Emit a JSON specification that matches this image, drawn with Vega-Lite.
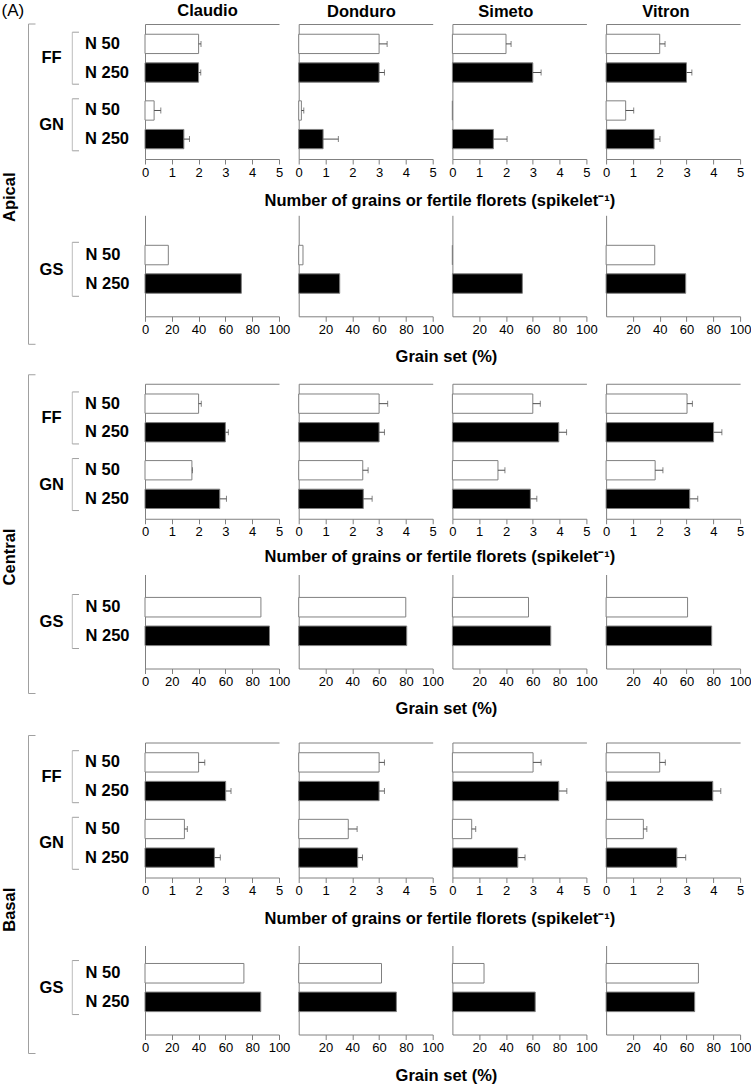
{
"$schema":"https://vega.github.io/schema/vega-lite/v6.json",
"padding":{"left":1,"top":2,"right":0,"bottom":0},
"config":{"font":"Liberation Sans","view":{"stroke":null},
"axis":{"domainColor":"#808080","tickColor":"#808080","labelColor":"#000000","labelFontSize":13,"labelFont":"Liberation Sans","tickSize":5,"labelPadding":2,"grid":false,"labelFlush":false,"labelOverlap":false,"domainWidth":1,"tickWidth":1},
"title":{"font":"Liberation Sans","fontSize":16.5,"fontWeight":"bold","color":"#000000"}},
"datasets":{
"traits":[{"trait":"FF"},{"trait":"GN"}],
"gsanchor":[{"n":"N 50"}],
"one":[{"k":1}],
"ab":[
{"sec":"Apical","cv":"Claudio","trait":"FF","n":"N 50","v":2.0,"e":2.09},
{"sec":"Apical","cv":"Claudio","trait":"FF","n":"N 250","v":2.0,"e":2.08},
{"sec":"Apical","cv":"Claudio","trait":"GN","n":"N 50","v":0.34,"e":0.59},
{"sec":"Apical","cv":"Claudio","trait":"GN","n":"N 250","v":1.45,"e":1.66},
{"sec":"Apical","cv":"Donduro","trait":"FF","n":"N 50","v":3.0,"e":3.3},
{"sec":"Apical","cv":"Donduro","trait":"FF","n":"N 250","v":3.0,"e":3.2},
{"sec":"Apical","cv":"Donduro","trait":"GN","n":"N 50","v":0.1,"e":0.19},
{"sec":"Apical","cv":"Donduro","trait":"GN","n":"N 250","v":0.91,"e":1.48},
{"sec":"Apical","cv":"Simeto","trait":"FF","n":"N 50","v":2.0,"e":2.19},
{"sec":"Apical","cv":"Simeto","trait":"FF","n":"N 250","v":3.0,"e":3.31},
{"sec":"Apical","cv":"Simeto","trait":"GN","n":"N 50","v":0,"e":null},
{"sec":"Apical","cv":"Simeto","trait":"GN","n":"N 250","v":1.53,"e":2.04},
{"sec":"Apical","cv":"Vitron","trait":"FF","n":"N 50","v":2.0,"e":2.2},
{"sec":"Apical","cv":"Vitron","trait":"FF","n":"N 250","v":3.0,"e":3.2},
{"sec":"Apical","cv":"Vitron","trait":"GN","n":"N 50","v":0.73,"e":1.03},
{"sec":"Apical","cv":"Vitron","trait":"GN","n":"N 250","v":1.79,"e":2.01},
{"sec":"Central","cv":"Claudio","trait":"FF","n":"N 50","v":2.0,"e":2.1},
{"sec":"Central","cv":"Claudio","trait":"FF","n":"N 250","v":3.0,"e":3.11},
{"sec":"Central","cv":"Claudio","trait":"GN","n":"N 50","v":1.75,"e":1.77},
{"sec":"Central","cv":"Claudio","trait":"GN","n":"N 250","v":2.79,"e":3.04},
{"sec":"Central","cv":"Donduro","trait":"FF","n":"N 50","v":3.0,"e":3.32},
{"sec":"Central","cv":"Donduro","trait":"FF","n":"N 250","v":3.0,"e":3.2},
{"sec":"Central","cv":"Donduro","trait":"GN","n":"N 50","v":2.39,"e":2.59},
{"sec":"Central","cv":"Donduro","trait":"GN","n":"N 250","v":2.41,"e":2.74},
{"sec":"Central","cv":"Simeto","trait":"FF","n":"N 50","v":3.0,"e":3.28},
{"sec":"Central","cv":"Simeto","trait":"FF","n":"N 250","v":3.97,"e":4.26},
{"sec":"Central","cv":"Simeto","trait":"GN","n":"N 50","v":1.7,"e":1.96},
{"sec":"Central","cv":"Simeto","trait":"GN","n":"N 250","v":2.91,"e":3.15},
{"sec":"Central","cv":"Vitron","trait":"FF","n":"N 50","v":3.02,"e":3.22},
{"sec":"Central","cv":"Vitron","trait":"FF","n":"N 250","v":4.01,"e":4.32},
{"sec":"Central","cv":"Vitron","trait":"GN","n":"N 50","v":1.83,"e":2.12},
{"sec":"Central","cv":"Vitron","trait":"GN","n":"N 250","v":3.12,"e":3.42},
{"sec":"Basal","cv":"Claudio","trait":"FF","n":"N 50","v":2.0,"e":2.23},
{"sec":"Basal","cv":"Claudio","trait":"FF","n":"N 250","v":3.01,"e":3.21},
{"sec":"Basal","cv":"Claudio","trait":"GN","n":"N 50","v":1.47,"e":1.58},
{"sec":"Basal","cv":"Claudio","trait":"GN","n":"N 250","v":2.59,"e":2.81},
{"sec":"Basal","cv":"Donduro","trait":"FF","n":"N 50","v":3.0,"e":3.2},
{"sec":"Basal","cv":"Donduro","trait":"FF","n":"N 250","v":3.0,"e":3.2},
{"sec":"Basal","cv":"Donduro","trait":"GN","n":"N 50","v":1.85,"e":2.18},
{"sec":"Basal","cv":"Donduro","trait":"GN","n":"N 250","v":2.2,"e":2.38},
{"sec":"Basal","cv":"Simeto","trait":"FF","n":"N 50","v":3.01,"e":3.31},
{"sec":"Basal","cv":"Simeto","trait":"FF","n":"N 250","v":3.97,"e":4.27},
{"sec":"Basal","cv":"Simeto","trait":"GN","n":"N 50","v":0.72,"e":0.87},
{"sec":"Basal","cv":"Simeto","trait":"GN","n":"N 250","v":2.44,"e":2.71},
{"sec":"Basal","cv":"Vitron","trait":"FF","n":"N 50","v":2.0,"e":2.21},
{"sec":"Basal","cv":"Vitron","trait":"FF","n":"N 250","v":3.98,"e":4.28},
{"sec":"Basal","cv":"Vitron","trait":"GN","n":"N 50","v":1.39,"e":1.52},
{"sec":"Basal","cv":"Vitron","trait":"GN","n":"N 250","v":2.64,"e":2.97}],
"gs":[
{"sec":"Apical","cv":"Claudio","n":"N 50","v":17.4},{"sec":"Apical","cv":"Claudio","n":"N 250","v":71.9},
{"sec":"Apical","cv":"Donduro","n":"N 50","v":3.2},{"sec":"Apical","cv":"Donduro","n":"N 250","v":30.6},
{"sec":"Apical","cv":"Simeto","n":"N 50","v":0},{"sec":"Apical","cv":"Simeto","n":"N 250","v":52.2},
{"sec":"Apical","cv":"Vitron","n":"N 50","v":36.3},{"sec":"Apical","cv":"Vitron","n":"N 250","v":59.4},
{"sec":"Central","cv":"Claudio","n":"N 50","v":86.5},{"sec":"Central","cv":"Claudio","n":"N 250","v":92.9},
{"sec":"Central","cv":"Donduro","n":"N 50","v":79.9},{"sec":"Central","cv":"Donduro","n":"N 250","v":80.6},
{"sec":"Central","cv":"Simeto","n":"N 50","v":56.8},{"sec":"Central","cv":"Simeto","n":"N 250","v":73.4},
{"sec":"Central","cv":"Vitron","n":"N 50","v":60.8},{"sec":"Central","cv":"Vitron","n":"N 250","v":78.8},
{"sec":"Basal","cv":"Claudio","n":"N 50","v":73.8},{"sec":"Basal","cv":"Claudio","n":"N 250","v":86.4},
{"sec":"Basal","cv":"Donduro","n":"N 50","v":61.8},{"sec":"Basal","cv":"Donduro","n":"N 250","v":72.9},
{"sec":"Basal","cv":"Simeto","n":"N 50","v":23.6},{"sec":"Basal","cv":"Simeto","n":"N 250","v":61.8},
{"sec":"Basal","cv":"Vitron","n":"N 50","v":68.9},{"sec":"Basal","cv":"Vitron","n":"N 250","v":66.1}]
},
"title":{"text":"(A)","anchor":"start","fontSize":17,"fontWeight":"normal","offset":-17},
"spacing":7.75,
"vconcat":[
{"title":{"text":"Apical","orient":"left","anchor":"middle","offset":10,"dx":-13},
 "spacing":-43.7,
 "vconcat":[
 {"hconcat":[
  {"width":134,"height":135,"title":{"text":"Claudio","dx":-4.5,"offset":4},
   "layer":[
    {"data":{"name":"ab"},"transform":[{"filter":"datum.sec==='Apical' && datum.cv==='Claudio'"}],
     "encoding":{"y":{"field":"trait","type":"nominal","scale":{"domain":["FF","GN"],"paddingInner":0.1,"paddingOuter":0.0635},"axis":{"ticks":false,"tickSize":0,"labelPadding":94,"labelAlign":"center","labelBaseline":"middle","labelFontSize":16.5,"labelFontWeight":"bold","title":null}}},
     "layer":[
      {"mark":{"type":"bar","stroke":"#808080","strokeWidth":1},"encoding":{"x":{"field":"v","type":"quantitative","scale":{"domain":[0,5]},"axis":{"values":[0,1,2,3,4,5],"title":null}},"yOffset":{"field":"n","type":"nominal","scale":{"domain":["N 50","N 250"],"paddingInner":0.325,"paddingOuter":0.21}},"fill":{"field":"n","type":"nominal","scale":{"domain":["N 50","N 250"],"range":["#ffffff","#000000"]},"legend":null}}},
      {"transform":[{"filter":"datum.e != null"}],"mark":{"type":"rule","color":"#505050"},"encoding":{"x":{"field":"v","type":"quantitative","scale":{"domain":[0,5]},"axis":{"values":[0,1,2,3,4,5],"title":null}},"x2":{"field":"e"},"yOffset":{"field":"n","type":"nominal","scale":{"domain":["N 50","N 250"],"paddingInner":0.325,"paddingOuter":0.21}}}},
      {"transform":[{"filter":"datum.e != null"}],"mark":{"type":"tick","color":"#505050","thickness":1,"size":6},"encoding":{"x":{"field":"e","type":"quantitative","scale":{"domain":[0,5]},"axis":{"values":[0,1,2,3,4,5],"title":null}},"yOffset":{"field":"n","type":"nominal","scale":{"domain":["N 50","N 250"],"paddingInner":0.325,"paddingOuter":0.21}}}},
      {"mark":{"type":"text","align":"left","baseline":"middle","fontSize":16.5,"fontWeight":"bold","color":"#000000"},"encoding":{"x":{"datum":-2.2388,"type":"quantitative","scale":{"domain":[0,5]},"axis":{"values":[0,1,2,3,4,5],"title":null}},"yOffset":{"field":"n","type":"nominal","scale":{"domain":["N 50","N 250"],"paddingInner":0.325,"paddingOuter":0.21}},"text":{"field":"n"}}},
      {"data":{"name":"traits"},"mark":{"type":"tick","color":"#a0a0a0","thickness":1,"size":52},"encoding":{"x":{"datum":-2.7127,"type":"quantitative","scale":{"domain":[0,5]},"axis":{"values":[0,1,2,3,4,5],"title":null}}}},
      {"data":{"name":"traits"},"mark":{"type":"rule","color":"#a0a0a0","yOffset":-26},"encoding":{"x":{"datum":-2.7127,"type":"quantitative","scale":{"domain":[0,5]},"axis":{"values":[0,1,2,3,4,5],"title":null}},"x2":{"datum":-2.4627}}},
      {"data":{"name":"traits"},"mark":{"type":"rule","color":"#a0a0a0","yOffset":26},"encoding":{"x":{"datum":-2.7127,"type":"quantitative","scale":{"domain":[0,5]},"axis":{"values":[0,1,2,3,4,5],"title":null}},"x2":{"datum":-2.4627}}}
     ]},
    {"data":{"name":"one"},
     "encoding":{"x":{"datum":-4.347,"type":"quantitative","scale":{"domain":[0,5]},"axis":{"orient":"top","labels":false,"ticks":false,"title":null}}},
     "layer":[
      {"mark":{"type":"rule","color":"#a0a0a0"},"encoding":{"y":{"datum":0,"type":"quantitative","scale":{"domain":[0,1],"range":[150,0]},"axis":null},"y2":{"datum":1}}},
      {"mark":{"type":"rule","color":"#a0a0a0"},"encoding":{"x2":{"datum":-4.086},"y":{"datum":1,"type":"quantitative","scale":{"domain":[0,1],"range":[150,0]},"axis":null}}}
     ]}
   ],
   "resolve":{"scale":{"x":"independent","y":"independent"}}},
  {"width":134,"height":135,"title":{"text":"Donduro","dx":-4.3,"offset":4},
   "data":{"name":"ab"},"transform":[{"filter":"datum.sec==='Apical' && datum.cv==='Donduro'"}],
   "encoding":{"y":{"field":"trait","type":"nominal","scale":{"domain":["FF","GN"],"paddingInner":0.1,"paddingOuter":0.0635},"axis":{"labels":false,"ticks":false,"title":null}},"yOffset":{"field":"n","type":"nominal","scale":{"domain":["N 50","N 250"],"paddingInner":0.325,"paddingOuter":0.21}}},
   "layer":[
    {"mark":{"type":"bar","stroke":"#808080","strokeWidth":1},"encoding":{"x":{"field":"v","type":"quantitative","scale":{"domain":[0,5]},"axis":{"values":[0,1,2,3,4,5],"title":null}},"fill":{"field":"n","type":"nominal","scale":{"domain":["N 50","N 250"],"range":["#ffffff","#000000"]},"legend":null}}},
    {"transform":[{"filter":"datum.e != null"}],"layer":[
     {"mark":{"type":"rule","color":"#505050"},"encoding":{"x":{"field":"v","type":"quantitative","scale":{"domain":[0,5]},"axis":{"orient":"top","labels":false,"ticks":false,"title":null}},"x2":{"field":"e"}}},
     {"mark":{"type":"tick","color":"#505050","thickness":1,"size":6},"encoding":{"x":{"field":"e","type":"quantitative","scale":{"domain":[0,5]},"axis":{"orient":"top","labels":false,"ticks":false,"title":null}}}}]}
   ],
   "resolve":{"scale":{"x":"independent"}}},
  {"width":134,"height":135,"title":{"text":"Simeto","dx":-13.6,"offset":4},
   "data":{"name":"ab"},"transform":[{"filter":"datum.sec==='Apical' && datum.cv==='Simeto'"}],
   "encoding":{"y":{"field":"trait","type":"nominal","scale":{"domain":["FF","GN"],"paddingInner":0.1,"paddingOuter":0.0635},"axis":{"labels":false,"ticks":false,"title":null}},"yOffset":{"field":"n","type":"nominal","scale":{"domain":["N 50","N 250"],"paddingInner":0.325,"paddingOuter":0.21}}},
   "layer":[
    {"mark":{"type":"bar","stroke":"#808080","strokeWidth":1},"encoding":{"x":{"field":"v","type":"quantitative","scale":{"domain":[0,5]},"axis":{"values":[0,1,2,3,4,5],"title":null}},"fill":{"field":"n","type":"nominal","scale":{"domain":["N 50","N 250"],"range":["#ffffff","#000000"]},"legend":null}}},
    {"transform":[{"filter":"datum.e != null"}],"layer":[
     {"mark":{"type":"rule","color":"#505050"},"encoding":{"x":{"field":"v","type":"quantitative","scale":{"domain":[0,5]},"axis":{"orient":"top","labels":false,"ticks":false,"title":null}},"x2":{"field":"e"}}},
     {"mark":{"type":"tick","color":"#505050","thickness":1,"size":6},"encoding":{"x":{"field":"e","type":"quantitative","scale":{"domain":[0,5]},"axis":{"orient":"top","labels":false,"ticks":false,"title":null}}}}]}
   ],
   "resolve":{"scale":{"x":"independent"}}},
  {"width":134,"height":135,"title":{"text":"Vitron","dx":-7.2,"offset":4},
   "data":{"name":"ab"},"transform":[{"filter":"datum.sec==='Apical' && datum.cv==='Vitron'"}],
   "encoding":{"y":{"field":"trait","type":"nominal","scale":{"domain":["FF","GN"],"paddingInner":0.1,"paddingOuter":0.0635},"axis":{"labels":false,"ticks":false,"title":null}},"yOffset":{"field":"n","type":"nominal","scale":{"domain":["N 50","N 250"],"paddingInner":0.325,"paddingOuter":0.21}}},
   "layer":[
    {"mark":{"type":"bar","stroke":"#808080","strokeWidth":1},"encoding":{"x":{"field":"v","type":"quantitative","scale":{"domain":[0,5]},"axis":{"values":[0,1,2,3,4,5],"title":null}},"fill":{"field":"n","type":"nominal","scale":{"domain":["N 50","N 250"],"range":["#ffffff","#000000"]},"legend":null}}},
    {"transform":[{"filter":"datum.e != null"}],"layer":[
     {"mark":{"type":"rule","color":"#505050"},"encoding":{"x":{"field":"v","type":"quantitative","scale":{"domain":[0,5]},"axis":{"orient":"top","labels":false,"ticks":false,"title":null}},"x2":{"field":"e"}}},
     {"mark":{"type":"tick","color":"#505050","thickness":1,"size":6},"encoding":{"x":{"field":"e","type":"quantitative","scale":{"domain":[0,5]},"axis":{"orient":"top","labels":false,"ticks":false,"title":null}}}}]}
   ],
   "resolve":{"scale":{"x":"independent"}}}
 ],"spacing":19.7,"bounds":"flush",
 "title":{"text":"Number of grains or fertile florets (spikelet⁻¹)","orient":"bottom","anchor":"middle","dx":54,"offset":13.8}},
 {"hconcat":[
  {"width":134,"height":101,
   "layer":[
    {"data":{"name":"gs"},"transform":[{"filter":"datum.sec==='Apical' && datum.cv==='Claudio'"}],
     "encoding":{"y":{"field":"n","type":"nominal","scale":{"domain":["N 50","N 250"],"paddingInner":0.316,"paddingOuter":0.93,"align":0.566},"axis":{"ticks":false,"tickSize":0,"labelPadding":60,"labelAlign":"left","labelBaseline":"middle","labelFontSize":16.5,"labelFontWeight":"bold","title":"GS","titleAngle":0,"titleAlign":"center","titleBaseline":"middle","titleX":-94,"titleY":54,"titleFontSize":16.5,"titleFontWeight":"bold","titleColor":"#000000"}}},
     "layer":[
      {"mark":{"type":"bar","stroke":"#808080","strokeWidth":1},"encoding":{"x":{"field":"v","type":"quantitative","scale":{"domain":[0,100]},"axis":{"values":[0,20,40,60,80,100],"title":null}},"fill":{"field":"n","type":"nominal","scale":{"domain":["N 50","N 250"],"range":["#ffffff","#000000"]},"legend":null}}},
      {"data":{"name":"gsanchor"},"mark":{"type":"tick","color":"#a0a0a0","thickness":1,"size":54,"yOffset":14.25},"encoding":{"x":{"datum":-54.254,"type":"quantitative","scale":{"domain":[0,100]},"axis":{"values":[0,20,40,60,80,100],"title":null}}}},
      {"data":{"name":"gsanchor"},"mark":{"type":"rule","color":"#a0a0a0","yOffset":-12.75},"encoding":{"x":{"datum":-54.254,"type":"quantitative","scale":{"domain":[0,100]},"axis":{"values":[0,20,40,60,80,100],"title":null}},"x2":{"datum":-49.254}}},
      {"data":{"name":"gsanchor"},"mark":{"type":"rule","color":"#a0a0a0","yOffset":41.25},"encoding":{"x":{"datum":-54.254,"type":"quantitative","scale":{"domain":[0,100]},"axis":{"values":[0,20,40,60,80,100],"title":null}},"x2":{"datum":-49.254}}}
     ]},
    {"data":{"name":"one"},
     "encoding":{"x":{"datum":-86.94,"type":"quantitative","scale":{"domain":[0,100]},"axis":{"values":[0,20,40,60,80,100],"title":null}}},
     "layer":[
      {"mark":{"type":"rule","color":"#a0a0a0"},"encoding":{"y":{"datum":0,"type":"quantitative","scale":{"domain":[0,1],"range":[129,-47.7]},"axis":null},"y2":{"datum":1}}},
      {"mark":{"type":"rule","color":"#a0a0a0"},"encoding":{"x2":{"datum":-81.716},"y":{"datum":0,"type":"quantitative","scale":{"domain":[0,1],"range":[129,-47.7]},"axis":null}}}
     ]}
   ],
   "resolve":{"scale":{"y":"independent"}}},
  {"width":134,"height":101,"data":{"name":"gs"},"transform":[{"filter":"datum.sec==='Apical' && datum.cv==='Donduro'"}],"mark":{"type":"bar","stroke":"#808080","strokeWidth":1},
   "encoding":{"y":{"field":"n","type":"nominal","scale":{"domain":["N 50","N 250"],"paddingInner":0.316,"paddingOuter":0.93,"align":0.566},"axis":{"labels":false,"ticks":false,"title":null}},"x":{"field":"v","type":"quantitative","scale":{"domain":[0,100]},"axis":{"values":[20,40,60,80,100],"title":null}},"fill":{"field":"n","type":"nominal","scale":{"domain":["N 50","N 250"],"range":["#ffffff","#000000"]},"legend":null}}},
  {"width":134,"height":101,"data":{"name":"gs"},"transform":[{"filter":"datum.sec==='Apical' && datum.cv==='Simeto'"}],"mark":{"type":"bar","stroke":"#808080","strokeWidth":1},
   "encoding":{"y":{"field":"n","type":"nominal","scale":{"domain":["N 50","N 250"],"paddingInner":0.316,"paddingOuter":0.93,"align":0.566},"axis":{"labels":false,"ticks":false,"title":null}},"x":{"field":"v","type":"quantitative","scale":{"domain":[0,100]},"axis":{"values":[20,40,60,80,100],"title":null}},"fill":{"field":"n","type":"nominal","scale":{"domain":["N 50","N 250"],"range":["#ffffff","#000000"]},"legend":null}}},
  {"width":134,"height":101,"data":{"name":"gs"},"transform":[{"filter":"datum.sec==='Apical' && datum.cv==='Vitron'"}],"mark":{"type":"bar","stroke":"#808080","strokeWidth":1},
   "encoding":{"y":{"field":"n","type":"nominal","scale":{"domain":["N 50","N 250"],"paddingInner":0.316,"paddingOuter":0.93,"align":0.566},"axis":{"labels":false,"ticks":false,"title":null}},"x":{"field":"v","type":"quantitative","scale":{"domain":[0,100]},"axis":{"values":[20,40,60,80,100],"title":null}},"fill":{"field":"n","type":"nominal","scale":{"domain":["N 50","N 250"],"range":["#ffffff","#000000"]},"legend":null}}}
 ],"spacing":19.7,"bounds":"flush",
 "title":{"text":"Grain set (%)","orient":"bottom","anchor":"middle","dx":57,"offset":4.25}}
 ]},
{"spacing":16.75,
 "vconcat":[
{"title":{"text":"Central","orient":"left","anchor":"middle","offset":10,"dx":-11},
 "spacing":-42.25,
 "vconcat":[
 {"hconcat":[
  {"width":134,"height":135,
   "layer":[
    {"data":{"name":"ab"},"transform":[{"filter":"datum.sec==='Central' && datum.cv==='Claudio'"}],
     "encoding":{"y":{"field":"trait","type":"nominal","scale":{"domain":["FF","GN"],"paddingInner":0.1,"paddingOuter":0.0635},"axis":{"ticks":false,"tickSize":0,"labelPadding":94,"labelAlign":"center","labelBaseline":"middle","labelFontSize":16.5,"labelFontWeight":"bold","title":null}}},
     "layer":[
      {"mark":{"type":"bar","stroke":"#808080","strokeWidth":1},"encoding":{"x":{"field":"v","type":"quantitative","scale":{"domain":[0,5]},"axis":{"values":[0,1,2,3,4,5],"title":null}},"yOffset":{"field":"n","type":"nominal","scale":{"domain":["N 50","N 250"],"paddingInner":0.325,"paddingOuter":0.21}},"fill":{"field":"n","type":"nominal","scale":{"domain":["N 50","N 250"],"range":["#ffffff","#000000"]},"legend":null}}},
      {"transform":[{"filter":"datum.e != null"}],"mark":{"type":"rule","color":"#505050"},"encoding":{"x":{"field":"v","type":"quantitative","scale":{"domain":[0,5]},"axis":{"values":[0,1,2,3,4,5],"title":null}},"x2":{"field":"e"},"yOffset":{"field":"n","type":"nominal","scale":{"domain":["N 50","N 250"],"paddingInner":0.325,"paddingOuter":0.21}}}},
      {"transform":[{"filter":"datum.e != null"}],"mark":{"type":"tick","color":"#505050","thickness":1,"size":6},"encoding":{"x":{"field":"e","type":"quantitative","scale":{"domain":[0,5]},"axis":{"values":[0,1,2,3,4,5],"title":null}},"yOffset":{"field":"n","type":"nominal","scale":{"domain":["N 50","N 250"],"paddingInner":0.325,"paddingOuter":0.21}}}},
      {"mark":{"type":"text","align":"left","baseline":"middle","fontSize":16.5,"fontWeight":"bold","color":"#000000"},"encoding":{"x":{"datum":-2.2388,"type":"quantitative","scale":{"domain":[0,5]},"axis":{"values":[0,1,2,3,4,5],"title":null}},"yOffset":{"field":"n","type":"nominal","scale":{"domain":["N 50","N 250"],"paddingInner":0.325,"paddingOuter":0.21}},"text":{"field":"n"}}},
      {"data":{"name":"traits"},"mark":{"type":"tick","color":"#a0a0a0","thickness":1,"size":52},"encoding":{"x":{"datum":-2.7127,"type":"quantitative","scale":{"domain":[0,5]},"axis":{"values":[0,1,2,3,4,5],"title":null}}}},
      {"data":{"name":"traits"},"mark":{"type":"rule","color":"#a0a0a0","yOffset":-26},"encoding":{"x":{"datum":-2.7127,"type":"quantitative","scale":{"domain":[0,5]},"axis":{"values":[0,1,2,3,4,5],"title":null}},"x2":{"datum":-2.4627}}},
      {"data":{"name":"traits"},"mark":{"type":"rule","color":"#a0a0a0","yOffset":26},"encoding":{"x":{"datum":-2.7127,"type":"quantitative","scale":{"domain":[0,5]},"axis":{"values":[0,1,2,3,4,5],"title":null}},"x2":{"datum":-2.4627}}}
     ]},
    {"data":{"name":"one"},
     "encoding":{"x":{"datum":-4.347,"type":"quantitative","scale":{"domain":[0,5]},"axis":{"orient":"top","labels":false,"ticks":false,"title":null}}},
     "layer":[
      {"mark":{"type":"rule","color":"#a0a0a0"},"encoding":{"y":{"datum":0,"type":"quantitative","scale":{"domain":[0,1],"range":[150,-9]},"axis":null},"y2":{"datum":1}}},
      {"mark":{"type":"rule","color":"#a0a0a0"},"encoding":{"x2":{"datum":-4.086},"y":{"datum":1,"type":"quantitative","scale":{"domain":[0,1],"range":[150,-9]},"axis":null}}}
     ]}
   ],
   "resolve":{"scale":{"x":"independent","y":"independent"}}},
  {"width":134,"height":135,
   "data":{"name":"ab"},"transform":[{"filter":"datum.sec==='Central' && datum.cv==='Donduro'"}],
   "encoding":{"y":{"field":"trait","type":"nominal","scale":{"domain":["FF","GN"],"paddingInner":0.1,"paddingOuter":0.0635},"axis":{"labels":false,"ticks":false,"title":null}},"yOffset":{"field":"n","type":"nominal","scale":{"domain":["N 50","N 250"],"paddingInner":0.325,"paddingOuter":0.21}}},
   "layer":[
    {"mark":{"type":"bar","stroke":"#808080","strokeWidth":1},"encoding":{"x":{"field":"v","type":"quantitative","scale":{"domain":[0,5]},"axis":{"values":[0,1,2,3,4,5],"title":null}},"fill":{"field":"n","type":"nominal","scale":{"domain":["N 50","N 250"],"range":["#ffffff","#000000"]},"legend":null}}},
    {"transform":[{"filter":"datum.e != null"}],"layer":[
     {"mark":{"type":"rule","color":"#505050"},"encoding":{"x":{"field":"v","type":"quantitative","scale":{"domain":[0,5]},"axis":{"orient":"top","labels":false,"ticks":false,"title":null}},"x2":{"field":"e"}}},
     {"mark":{"type":"tick","color":"#505050","thickness":1,"size":6},"encoding":{"x":{"field":"e","type":"quantitative","scale":{"domain":[0,5]},"axis":{"orient":"top","labels":false,"ticks":false,"title":null}}}}]}
   ],
   "resolve":{"scale":{"x":"independent"}}},
  {"width":134,"height":135,
   "data":{"name":"ab"},"transform":[{"filter":"datum.sec==='Central' && datum.cv==='Simeto'"}],
   "encoding":{"y":{"field":"trait","type":"nominal","scale":{"domain":["FF","GN"],"paddingInner":0.1,"paddingOuter":0.0635},"axis":{"labels":false,"ticks":false,"title":null}},"yOffset":{"field":"n","type":"nominal","scale":{"domain":["N 50","N 250"],"paddingInner":0.325,"paddingOuter":0.21}}},
   "layer":[
    {"mark":{"type":"bar","stroke":"#808080","strokeWidth":1},"encoding":{"x":{"field":"v","type":"quantitative","scale":{"domain":[0,5]},"axis":{"values":[0,1,2,3,4,5],"title":null}},"fill":{"field":"n","type":"nominal","scale":{"domain":["N 50","N 250"],"range":["#ffffff","#000000"]},"legend":null}}},
    {"transform":[{"filter":"datum.e != null"}],"layer":[
     {"mark":{"type":"rule","color":"#505050"},"encoding":{"x":{"field":"v","type":"quantitative","scale":{"domain":[0,5]},"axis":{"orient":"top","labels":false,"ticks":false,"title":null}},"x2":{"field":"e"}}},
     {"mark":{"type":"tick","color":"#505050","thickness":1,"size":6},"encoding":{"x":{"field":"e","type":"quantitative","scale":{"domain":[0,5]},"axis":{"orient":"top","labels":false,"ticks":false,"title":null}}}}]}
   ],
   "resolve":{"scale":{"x":"independent"}}},
  {"width":134,"height":135,
   "data":{"name":"ab"},"transform":[{"filter":"datum.sec==='Central' && datum.cv==='Vitron'"}],
   "encoding":{"y":{"field":"trait","type":"nominal","scale":{"domain":["FF","GN"],"paddingInner":0.1,"paddingOuter":0.0635},"axis":{"labels":false,"ticks":false,"title":null}},"yOffset":{"field":"n","type":"nominal","scale":{"domain":["N 50","N 250"],"paddingInner":0.325,"paddingOuter":0.21}}},
   "layer":[
    {"mark":{"type":"bar","stroke":"#808080","strokeWidth":1},"encoding":{"x":{"field":"v","type":"quantitative","scale":{"domain":[0,5]},"axis":{"values":[0,1,2,3,4,5],"title":null}},"fill":{"field":"n","type":"nominal","scale":{"domain":["N 50","N 250"],"range":["#ffffff","#000000"]},"legend":null}}},
    {"transform":[{"filter":"datum.e != null"}],"layer":[
     {"mark":{"type":"rule","color":"#505050"},"encoding":{"x":{"field":"v","type":"quantitative","scale":{"domain":[0,5]},"axis":{"orient":"top","labels":false,"ticks":false,"title":null}},"x2":{"field":"e"}}},
     {"mark":{"type":"tick","color":"#505050","thickness":1,"size":6},"encoding":{"x":{"field":"e","type":"quantitative","scale":{"domain":[0,5]},"axis":{"orient":"top","labels":false,"ticks":false,"title":null}}}}]}
   ],
   "resolve":{"scale":{"x":"independent"}}}
 ],"spacing":19.7,"bounds":"flush",
 "title":{"text":"Number of grains or fertile florets (spikelet⁻¹)","orient":"bottom","anchor":"middle","dx":54,"offset":9.8}},
 {"hconcat":[
  {"width":134,"height":94,
   "layer":[
    {"data":{"name":"gs"},"transform":[{"filter":"datum.sec==='Central' && datum.cv==='Claudio'"}],
     "encoding":{"y":{"field":"n","type":"nominal","scale":{"domain":["N 50","N 250"],"paddingInner":0.316,"paddingOuter":0.8015,"align":0.5},"axis":{"ticks":false,"tickSize":0,"labelPadding":60,"labelAlign":"left","labelBaseline":"middle","labelFontSize":16.5,"labelFontWeight":"bold","title":"GS","titleAngle":0,"titleAlign":"center","titleBaseline":"middle","titleX":-94,"titleY":47,"titleFontSize":16.5,"titleFontWeight":"bold","titleColor":"#000000"}}},
     "layer":[
      {"mark":{"type":"bar","stroke":"#808080","strokeWidth":1},"encoding":{"x":{"field":"v","type":"quantitative","scale":{"domain":[0,100]},"axis":{"values":[0,20,40,60,80,100],"title":null}},"fill":{"field":"n","type":"nominal","scale":{"domain":["N 50","N 250"],"range":["#ffffff","#000000"]},"legend":null}}},
      {"data":{"name":"gsanchor"},"mark":{"type":"tick","color":"#a0a0a0","thickness":1,"size":54,"yOffset":14.3},"encoding":{"x":{"datum":-54.254,"type":"quantitative","scale":{"domain":[0,100]},"axis":{"values":[0,20,40,60,80,100],"title":null}}}},
      {"data":{"name":"gsanchor"},"mark":{"type":"rule","color":"#a0a0a0","yOffset":-12.7},"encoding":{"x":{"datum":-54.254,"type":"quantitative","scale":{"domain":[0,100]},"axis":{"values":[0,20,40,60,80,100],"title":null}},"x2":{"datum":-49.254}}},
      {"data":{"name":"gsanchor"},"mark":{"type":"rule","color":"#a0a0a0","yOffset":41.3},"encoding":{"x":{"datum":-54.254,"type":"quantitative","scale":{"domain":[0,100]},"axis":{"values":[0,20,40,60,80,100],"title":null}},"x2":{"datum":-49.254}}}
     ]},
    {"data":{"name":"one"},
     "encoding":{"x":{"datum":-86.94,"type":"quantitative","scale":{"domain":[0,100]},"axis":{"values":[0,20,40,60,80,100],"title":null}}},
     "layer":[
      {"mark":{"type":"rule","color":"#a0a0a0"},"encoding":{"y":{"datum":0,"type":"quantitative","scale":{"domain":[0,1],"range":[119,-50]},"axis":null},"y2":{"datum":1}}},
      {"mark":{"type":"rule","color":"#a0a0a0"},"encoding":{"x2":{"datum":-81.716},"y":{"datum":0,"type":"quantitative","scale":{"domain":[0,1],"range":[119,-50]},"axis":null}}}
     ]}
   ],
   "resolve":{"scale":{"y":"independent"}}},
  {"width":134,"height":94,"data":{"name":"gs"},"transform":[{"filter":"datum.sec==='Central' && datum.cv==='Donduro'"}],"mark":{"type":"bar","stroke":"#808080","strokeWidth":1},
   "encoding":{"y":{"field":"n","type":"nominal","scale":{"domain":["N 50","N 250"],"paddingInner":0.316,"paddingOuter":0.8015,"align":0.5},"axis":{"labels":false,"ticks":false,"title":null}},"x":{"field":"v","type":"quantitative","scale":{"domain":[0,100]},"axis":{"values":[20,40,60,80,100],"title":null}},"fill":{"field":"n","type":"nominal","scale":{"domain":["N 50","N 250"],"range":["#ffffff","#000000"]},"legend":null}}},
  {"width":134,"height":94,"data":{"name":"gs"},"transform":[{"filter":"datum.sec==='Central' && datum.cv==='Simeto'"}],"mark":{"type":"bar","stroke":"#808080","strokeWidth":1},
   "encoding":{"y":{"field":"n","type":"nominal","scale":{"domain":["N 50","N 250"],"paddingInner":0.316,"paddingOuter":0.8015,"align":0.5},"axis":{"labels":false,"ticks":false,"title":null}},"x":{"field":"v","type":"quantitative","scale":{"domain":[0,100]},"axis":{"values":[20,40,60,80,100],"title":null}},"fill":{"field":"n","type":"nominal","scale":{"domain":["N 50","N 250"],"range":["#ffffff","#000000"]},"legend":null}}},
  {"width":134,"height":94,"data":{"name":"gs"},"transform":[{"filter":"datum.sec==='Central' && datum.cv==='Vitron'"}],"mark":{"type":"bar","stroke":"#808080","strokeWidth":1},
   "encoding":{"y":{"field":"n","type":"nominal","scale":{"domain":["N 50","N 250"],"paddingInner":0.316,"paddingOuter":0.8015,"align":0.5},"axis":{"labels":false,"ticks":false,"title":null}},"x":{"field":"v","type":"quantitative","scale":{"domain":[0,100]},"axis":{"values":[20,40,60,80,100],"title":null}},"fill":{"field":"n","type":"nominal","scale":{"domain":["N 50","N 250"],"range":["#ffffff","#000000"]},"legend":null}}}
 ],"spacing":19.7,"bounds":"flush",
 "title":{"text":"Grain set (%)","orient":"bottom","anchor":"middle","dx":57,"offset":7.25}}
 ]},
{"title":{"text":"Basal","orient":"left","anchor":"middle","offset":10},
 "spacing":-44,
 "vconcat":[
 {"hconcat":[
  {"width":134,"height":135,
   "layer":[
    {"data":{"name":"ab"},"transform":[{"filter":"datum.sec==='Basal' && datum.cv==='Claudio'"}],
     "encoding":{"y":{"field":"trait","type":"nominal","scale":{"domain":["FF","GN"],"paddingInner":0.1,"paddingOuter":0.0635},"axis":{"ticks":false,"tickSize":0,"labelPadding":94,"labelAlign":"center","labelBaseline":"middle","labelFontSize":16.5,"labelFontWeight":"bold","title":null}}},
     "layer":[
      {"mark":{"type":"bar","stroke":"#808080","strokeWidth":1},"encoding":{"x":{"field":"v","type":"quantitative","scale":{"domain":[0,5]},"axis":{"values":[0,1,2,3,4,5],"title":null}},"yOffset":{"field":"n","type":"nominal","scale":{"domain":["N 50","N 250"],"paddingInner":0.325,"paddingOuter":0.21}},"fill":{"field":"n","type":"nominal","scale":{"domain":["N 50","N 250"],"range":["#ffffff","#000000"]},"legend":null}}},
      {"transform":[{"filter":"datum.e != null"}],"mark":{"type":"rule","color":"#505050"},"encoding":{"x":{"field":"v","type":"quantitative","scale":{"domain":[0,5]},"axis":{"values":[0,1,2,3,4,5],"title":null}},"x2":{"field":"e"},"yOffset":{"field":"n","type":"nominal","scale":{"domain":["N 50","N 250"],"paddingInner":0.325,"paddingOuter":0.21}}}},
      {"transform":[{"filter":"datum.e != null"}],"mark":{"type":"tick","color":"#505050","thickness":1,"size":6},"encoding":{"x":{"field":"e","type":"quantitative","scale":{"domain":[0,5]},"axis":{"values":[0,1,2,3,4,5],"title":null}},"yOffset":{"field":"n","type":"nominal","scale":{"domain":["N 50","N 250"],"paddingInner":0.325,"paddingOuter":0.21}}}},
      {"mark":{"type":"text","align":"left","baseline":"middle","fontSize":16.5,"fontWeight":"bold","color":"#000000"},"encoding":{"x":{"datum":-2.2388,"type":"quantitative","scale":{"domain":[0,5]},"axis":{"values":[0,1,2,3,4,5],"title":null}},"yOffset":{"field":"n","type":"nominal","scale":{"domain":["N 50","N 250"],"paddingInner":0.325,"paddingOuter":0.21}},"text":{"field":"n"}}},
      {"data":{"name":"traits"},"mark":{"type":"tick","color":"#a0a0a0","thickness":1,"size":52},"encoding":{"x":{"datum":-2.7127,"type":"quantitative","scale":{"domain":[0,5]},"axis":{"values":[0,1,2,3,4,5],"title":null}}}},
      {"data":{"name":"traits"},"mark":{"type":"rule","color":"#a0a0a0","yOffset":-26},"encoding":{"x":{"datum":-2.7127,"type":"quantitative","scale":{"domain":[0,5]},"axis":{"values":[0,1,2,3,4,5],"title":null}},"x2":{"datum":-2.4627}}},
      {"data":{"name":"traits"},"mark":{"type":"rule","color":"#a0a0a0","yOffset":26},"encoding":{"x":{"datum":-2.7127,"type":"quantitative","scale":{"domain":[0,5]},"axis":{"values":[0,1,2,3,4,5],"title":null}},"x2":{"datum":-2.4627}}}
     ]},
    {"data":{"name":"one"},
     "encoding":{"x":{"datum":-4.347,"type":"quantitative","scale":{"domain":[0,5]},"axis":{"orient":"top","labels":false,"ticks":false,"title":null}}},
     "layer":[
      {"mark":{"type":"rule","color":"#a0a0a0"},"encoding":{"y":{"datum":0,"type":"quantitative","scale":{"domain":[0,1],"range":[150,-7]},"axis":null},"y2":{"datum":1}}},
      {"mark":{"type":"rule","color":"#a0a0a0"},"encoding":{"x2":{"datum":-4.086},"y":{"datum":1,"type":"quantitative","scale":{"domain":[0,1],"range":[150,-7]},"axis":null}}}
     ]}
   ],
   "resolve":{"scale":{"x":"independent","y":"independent"}}},
  {"width":134,"height":135,
   "data":{"name":"ab"},"transform":[{"filter":"datum.sec==='Basal' && datum.cv==='Donduro'"}],
   "encoding":{"y":{"field":"trait","type":"nominal","scale":{"domain":["FF","GN"],"paddingInner":0.1,"paddingOuter":0.0635},"axis":{"labels":false,"ticks":false,"title":null}},"yOffset":{"field":"n","type":"nominal","scale":{"domain":["N 50","N 250"],"paddingInner":0.325,"paddingOuter":0.21}}},
   "layer":[
    {"mark":{"type":"bar","stroke":"#808080","strokeWidth":1},"encoding":{"x":{"field":"v","type":"quantitative","scale":{"domain":[0,5]},"axis":{"values":[0,1,2,3,4,5],"title":null}},"fill":{"field":"n","type":"nominal","scale":{"domain":["N 50","N 250"],"range":["#ffffff","#000000"]},"legend":null}}},
    {"transform":[{"filter":"datum.e != null"}],"layer":[
     {"mark":{"type":"rule","color":"#505050"},"encoding":{"x":{"field":"v","type":"quantitative","scale":{"domain":[0,5]},"axis":{"orient":"top","labels":false,"ticks":false,"title":null}},"x2":{"field":"e"}}},
     {"mark":{"type":"tick","color":"#505050","thickness":1,"size":6},"encoding":{"x":{"field":"e","type":"quantitative","scale":{"domain":[0,5]},"axis":{"orient":"top","labels":false,"ticks":false,"title":null}}}}]}
   ],
   "resolve":{"scale":{"x":"independent"}}},
  {"width":134,"height":135,
   "data":{"name":"ab"},"transform":[{"filter":"datum.sec==='Basal' && datum.cv==='Simeto'"}],
   "encoding":{"y":{"field":"trait","type":"nominal","scale":{"domain":["FF","GN"],"paddingInner":0.1,"paddingOuter":0.0635},"axis":{"labels":false,"ticks":false,"title":null}},"yOffset":{"field":"n","type":"nominal","scale":{"domain":["N 50","N 250"],"paddingInner":0.325,"paddingOuter":0.21}}},
   "layer":[
    {"mark":{"type":"bar","stroke":"#808080","strokeWidth":1},"encoding":{"x":{"field":"v","type":"quantitative","scale":{"domain":[0,5]},"axis":{"values":[0,1,2,3,4,5],"title":null}},"fill":{"field":"n","type":"nominal","scale":{"domain":["N 50","N 250"],"range":["#ffffff","#000000"]},"legend":null}}},
    {"transform":[{"filter":"datum.e != null"}],"layer":[
     {"mark":{"type":"rule","color":"#505050"},"encoding":{"x":{"field":"v","type":"quantitative","scale":{"domain":[0,5]},"axis":{"orient":"top","labels":false,"ticks":false,"title":null}},"x2":{"field":"e"}}},
     {"mark":{"type":"tick","color":"#505050","thickness":1,"size":6},"encoding":{"x":{"field":"e","type":"quantitative","scale":{"domain":[0,5]},"axis":{"orient":"top","labels":false,"ticks":false,"title":null}}}}]}
   ],
   "resolve":{"scale":{"x":"independent"}}},
  {"width":134,"height":135,
   "data":{"name":"ab"},"transform":[{"filter":"datum.sec==='Basal' && datum.cv==='Vitron'"}],
   "encoding":{"y":{"field":"trait","type":"nominal","scale":{"domain":["FF","GN"],"paddingInner":0.1,"paddingOuter":0.0635},"axis":{"labels":false,"ticks":false,"title":null}},"yOffset":{"field":"n","type":"nominal","scale":{"domain":["N 50","N 250"],"paddingInner":0.325,"paddingOuter":0.21}}},
   "layer":[
    {"mark":{"type":"bar","stroke":"#808080","strokeWidth":1},"encoding":{"x":{"field":"v","type":"quantitative","scale":{"domain":[0,5]},"axis":{"values":[0,1,2,3,4,5],"title":null}},"fill":{"field":"n","type":"nominal","scale":{"domain":["N 50","N 250"],"range":["#ffffff","#000000"]},"legend":null}}},
    {"transform":[{"filter":"datum.e != null"}],"layer":[
     {"mark":{"type":"rule","color":"#505050"},"encoding":{"x":{"field":"v","type":"quantitative","scale":{"domain":[0,5]},"axis":{"orient":"top","labels":false,"ticks":false,"title":null}},"x2":{"field":"e"}}},
     {"mark":{"type":"tick","color":"#505050","thickness":1,"size":6},"encoding":{"x":{"field":"e","type":"quantitative","scale":{"domain":[0,5]},"axis":{"orient":"top","labels":false,"ticks":false,"title":null}}}}]}
   ],
   "resolve":{"scale":{"x":"independent"}}}
 ],"spacing":19.7,"bounds":"flush",
 "title":{"text":"Number of grains or fertile florets (spikelet⁻¹)","orient":"bottom","anchor":"middle","dx":54,"offset":13.5}},
 {"hconcat":[
  {"width":134,"height":89,
   "layer":[
    {"data":{"name":"gs"},"transform":[{"filter":"datum.sec==='Basal' && datum.cv==='Claudio'"}],
     "encoding":{"y":{"field":"n","type":"nominal","scale":{"domain":["N 50","N 250"],"paddingInner":0.316,"paddingOuter":0.714,"align":0.44},"axis":{"ticks":false,"tickSize":0,"labelPadding":60,"labelAlign":"left","labelBaseline":"middle","labelFontSize":16.5,"labelFontWeight":"bold","title":"GS","titleAngle":0,"titleAlign":"center","titleBaseline":"middle","titleX":-94,"titleY":42,"titleFontSize":16.5,"titleFontWeight":"bold","titleColor":"#000000"}}},
     "layer":[
      {"mark":{"type":"bar","stroke":"#808080","strokeWidth":1},"encoding":{"x":{"field":"v","type":"quantitative","scale":{"domain":[0,100]},"axis":{"values":[0,20,40,60,80,100],"title":null}},"fill":{"field":"n","type":"nominal","scale":{"domain":["N 50","N 250"],"range":["#ffffff","#000000"]},"legend":null}}},
      {"data":{"name":"gsanchor"},"mark":{"type":"tick","color":"#a0a0a0","thickness":1,"size":54,"yOffset":14.3},"encoding":{"x":{"datum":-54.254,"type":"quantitative","scale":{"domain":[0,100]},"axis":{"values":[0,20,40,60,80,100],"title":null}}}},
      {"data":{"name":"gsanchor"},"mark":{"type":"rule","color":"#a0a0a0","yOffset":-12.7},"encoding":{"x":{"datum":-54.254,"type":"quantitative","scale":{"domain":[0,100]},"axis":{"values":[0,20,40,60,80,100],"title":null}},"x2":{"datum":-49.254}}},
      {"data":{"name":"gsanchor"},"mark":{"type":"rule","color":"#a0a0a0","yOffset":41.3},"encoding":{"x":{"datum":-54.254,"type":"quantitative","scale":{"domain":[0,100]},"axis":{"values":[0,20,40,60,80,100],"title":null}},"x2":{"datum":-49.254}}}
     ]},
    {"data":{"name":"one"},
     "encoding":{"x":{"datum":-86.94,"type":"quantitative","scale":{"domain":[0,100]},"axis":{"values":[0,20,40,60,80,100],"title":null}}},
     "layer":[
      {"mark":{"type":"rule","color":"#a0a0a0"},"encoding":{"y":{"datum":0,"type":"quantitative","scale":{"domain":[0,1],"range":[108,-61]},"axis":null},"y2":{"datum":1}}},
      {"mark":{"type":"rule","color":"#a0a0a0"},"encoding":{"x2":{"datum":-81.716},"y":{"datum":0,"type":"quantitative","scale":{"domain":[0,1],"range":[108,-61]},"axis":null}}}
     ]}
   ],
   "resolve":{"scale":{"y":"independent"}}},
  {"width":134,"height":89,"data":{"name":"gs"},"transform":[{"filter":"datum.sec==='Basal' && datum.cv==='Donduro'"}],"mark":{"type":"bar","stroke":"#808080","strokeWidth":1},
   "encoding":{"y":{"field":"n","type":"nominal","scale":{"domain":["N 50","N 250"],"paddingInner":0.316,"paddingOuter":0.714,"align":0.44},"axis":{"labels":false,"ticks":false,"title":null}},"x":{"field":"v","type":"quantitative","scale":{"domain":[0,100]},"axis":{"values":[20,40,60,80,100],"title":null}},"fill":{"field":"n","type":"nominal","scale":{"domain":["N 50","N 250"],"range":["#ffffff","#000000"]},"legend":null}}},
  {"width":134,"height":89,"data":{"name":"gs"},"transform":[{"filter":"datum.sec==='Basal' && datum.cv==='Simeto'"}],"mark":{"type":"bar","stroke":"#808080","strokeWidth":1},
   "encoding":{"y":{"field":"n","type":"nominal","scale":{"domain":["N 50","N 250"],"paddingInner":0.316,"paddingOuter":0.714,"align":0.44},"axis":{"labels":false,"ticks":false,"title":null}},"x":{"field":"v","type":"quantitative","scale":{"domain":[0,100]},"axis":{"values":[20,40,60,80,100],"title":null}},"fill":{"field":"n","type":"nominal","scale":{"domain":["N 50","N 250"],"range":["#ffffff","#000000"]},"legend":null}}},
  {"width":134,"height":89,"data":{"name":"gs"},"transform":[{"filter":"datum.sec==='Basal' && datum.cv==='Vitron'"}],"mark":{"type":"bar","stroke":"#808080","strokeWidth":1},
   "encoding":{"y":{"field":"n","type":"nominal","scale":{"domain":["N 50","N 250"],"paddingInner":0.316,"paddingOuter":0.714,"align":0.44},"axis":{"labels":false,"ticks":false,"title":null}},"x":{"field":"v","type":"quantitative","scale":{"domain":[0,100]},"axis":{"values":[20,40,60,80,100],"title":null}},"fill":{"field":"n","type":"nominal","scale":{"domain":["N 50","N 250"],"range":["#ffffff","#000000"]},"legend":null}}}
 ],"spacing":19.7,"bounds":"flush",
 "title":{"text":"Grain set (%)","orient":"bottom","anchor":"middle","dx":57,"offset":13.5}}
 ]}
 ]}
]
}
